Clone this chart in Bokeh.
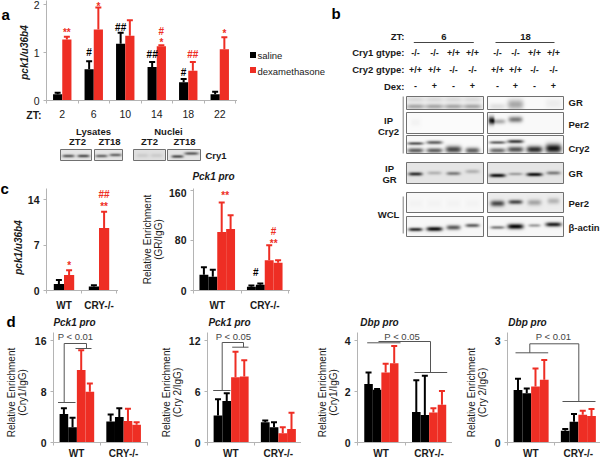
import numpy as np
from math import pi
from bokeh.plotting import figure
from bokeh.models import Range1d, FixedTicker
from bokeh.core.properties import value
from bokeh.embed import file_html
from bokeh.resources import INLINE

RED = "#ee2e24"
BLK = "#000000"
AX = "#b4b4b4"
FONT = value("Liberation Sans")
INK = "#1a1a1a"

# ---- panel a
zt_labels = ["2", "6", "10", "14", "18", "22"]
a_saline = [0.13, 0.65, 1.18, 0.70, 0.38, 0.13]
a_saline_err = [0.03, 0.17, 0.23, 0.10, 0.07, 0.05]
a_dex = [1.27, 1.48, 1.35, 1.13, 0.62, 1.07]
a_dex_err = [0.06, 0.46, 0.32, 0.02, 0.18, 0.25]
# ---- panel c
c1_values = [1.0, 2.4, 0.6, 9.6]
c1_err = [0.6, 0.7, 0.2, 2.5]
c2_values = [25, 22, 93, 98, 6, 9, 48, 44]
c2_err = [12, 11, 47, 22, 2, 2, 24, 4]
# ---- panel d
d1_values = [4.5, 2.4, 11.4, 8.0, 3.3, 4.0, 3.4, 2.8]
d1_err = [0.9, 1.5, 3.1, 1.3, 1.1, 1.4, 1.9, 0.4]
d2_values = [3.2, 4.9, 7.7, 7.8, 2.4, 1.8, 1.1, 1.6]
d2_err = [1.9, 0.9, 3.0, 1.9, 0.2, 0.6, 0.7, 1.9]
d3_values = [2.3, 2.07, 2.75, 3.12, 1.2, 1.08, 1.18, 1.48]
d3_err = [0.45, 0.03, 0.35, 0.68, 1.25, 1.55, 0.17, 0.55]
d4_values = [1.55, 1.45, 1.65, 1.85, 0.35, 0.61, 0.82, 0.78]
d4_err = [0.33, 0.14, 0.53, 0.58, 0.05, 0.23, 0.12, 0.21]
group_labels = ["WT", "CRY-/-"]
colors4 = [BLK, BLK, RED, RED, BLK, BLK, RED, RED]

WIN_W, WIN_H = 601, 459
ML = 34


def place(fig, left, top):
    fig.styles = {"position": "absolute", "left": f"{left}px", "top": f"{top}px"}


def chart(ax_x, right, y0_pix, frame_top, tick_top_pix, tick_top_val, yticks, slot, centers, labels,
          xs, vals, errs, cols, bw, label_size="10px", label_style="bold", stand=5,
          tick_size="10.5px", tick_style="bold", mb=30):
    W = right - ax_x
    H = y0_pix - frame_top
    per = (y0_pix - tick_top_pix) / tick_top_val
    p = figure(width=int(W + ML + 2), height=int(H + mb), output_backend="svg", toolbar_location=None,
               x_range=Range1d(0, (W + 2) / slot), y_range=Range1d(0, H / per),
               min_border_left=ML, min_border_right=0, min_border_top=0, min_border_bottom=mb,
               outline_line_color=None, background_fill_color=None, border_fill_color=None)
    p.grid.visible = False
    xa, ya = p.xaxis[0], p.yaxis[0]
    ya.ticker = FixedTicker(ticks=yticks)
    xa.ticker = FixedTicker(ticks=centers, minor_ticks=[float(i) for i in range(len(centers) + 1)])
    xa.major_label_overrides = {c: l for c, l in zip(centers, labels)}
    for a in (xa, ya):
        a.axis_line_color = AX
        a.major_tick_line_color = AX
        a.major_tick_in = 0
        a.minor_tick_in = 0
    ya.major_tick_out = 3
    ya.minor_tick_line_color = None
    xa.major_tick_out = 0
    xa.minor_tick_out = 3
    xa.minor_tick_line_color = AX
    xa.major_label_text_font = "Liberation Sans"
    xa.major_label_text_font_size = label_size
    xa.major_label_text_font_style = label_style
    xa.major_label_text_color = INK
    xa.major_label_standoff = stand
    ya.major_label_text_font = "Liberation Sans"
    ya.major_label_text_font_size = tick_size
    ya.major_label_text_font_style = tick_style
    ya.major_label_text_color = INK
    ya.major_label_standoff = 4

    tops = [v + e for v, e in zip(vals, errs)]
    p.segment(x0=xs, y0=vals, x1=xs, y1=tops, line_color=cols, line_width=2)
    p.scatter(x=xs, y=tops, marker="dash", size=6, line_color=cols, line_width=2)
    p.vbar(x=xs, top=vals, bottom=0, width=bw, fill_color=cols, line_color=None)
    place(p, ax_x - ML, frame_top)
    return p


def stars(p, items, size="10px"):
    for x, y, t, c in items:
        p.text(x=[x], y=[y], text=[t], text_color=c, text_font=FONT, text_font_size=size,
               text_font_style="bold", text_align="center", text_baseline="middle")


# ---- panel a chart
slot_a = 31.5
centers_a = [i + 0.5 for i in range(6)]
bw_a = 9.2 / slot_a
xs_a = [c - bw_a / 2 for c in centers_a] + [c + bw_a / 2 for c in centers_a]
pa = chart(46, 235, 100, 0, 4, 2, [0, 1, 2], slot_a, centers_a, zt_labels, xs_a,
           a_saline + a_dex, a_saline_err + a_dex_err, [BLK] * 6 + [RED] * 6, bw_a,
           label_size="10.5px", label_style="normal", stand=6, tick_style="normal")
stars(pa, [(xs_a[6], 1.41, "**", RED), (xs_a[1], 0.99, "#", BLK), (xs_a[7], 1.96, "*", RED),
           (xs_a[2], 1.52, "##", BLK), (xs_a[3], 0.96, "##", BLK), (xs_a[9], 1.44, "#", RED),
           (xs_a[9], 1.21, "*", RED), (xs_a[4], 0.58, "#", BLK), (xs_a[10], 0.96, "##", RED),
           (xs_a[11], 1.39, "*", RED)])

# ---- panel c charts
bw_c = 10.2 / 35
xs_c1 = [0.5 - bw_c / 2, 0.5 + bw_c / 2, 1.5 - bw_c / 2, 1.5 + bw_c / 2]
pc1 = chart(46, 116, 290, 188, 199, 14, [0, 7, 14], 35, [0.5, 1.5], group_labels, xs_c1,
            c1_values, c1_err, [BLK, RED, BLK, RED], bw_c, stand=6)
stars(pc1, [(xs_c1[1], 3.8, "*", RED), (xs_c1[3], 13.0, "**", RED), (xs_c1[3], 14.7, "##", RED)])


def four(slot, bw_px):
    b = bw_px / slot
    return [g + (i - 1.5) * b for g in (0.5, 1.5) for i in range(4)], b


xs_c2, bw_c2 = four(47.5, 8.9)
pc2 = chart(193, 288, 290, 188, 189.5, 160, [0, 80, 160], 47.5, [0.5, 1.5], group_labels, xs_c2,
            c2_values, c2_err, colors4, bw_c2, stand=6)
stars(pc2, [(0.5 + bw_c2 * 0.9, 151, "**", RED), (1.5 - bw_c2, 29, "#", BLK),
            (1.5 + bw_c2, 94, "#", RED), (1.5 + bw_c2, 75, "**", RED)])

# ---- panel d charts (their group names go on the sheet below, the window ends just under them)
blank = ["", ""]
xs_d1, bw_d1 = four(47, 8.7)
pd1 = chart(52.5, 146, 442, 332, 340.3, 16, [0, 8, 16], 47, [0.5, 1.5], blank, xs_d1,
            d1_values, d1_err, colors4, bw_d1, stand=0, mb=17)
xs_d2, bw_d2 = four(47.5, 8.8)
pd2 = chart(206.5, 299, 442, 332, 340.3, 12, [0, 6, 12], 47.5, [0.5, 1.5], blank, xs_d2,
            d2_values, d2_err, colors4, bw_d2, stand=0, mb=17)
xs_d3, bw_d3 = four(48, 8.6)
pd3 = chart(356.5, 450, 442, 332, 340.3, 4, [0, 2, 4], 48, [0.5, 1.5], blank, xs_d3,
            d3_values, d3_err, colors4, bw_d3, stand=0, mb=17)
xs_d4, bw_d4 = four(47.5, 8.8)
pd4 = chart(506.5, 598, 442, 332, 340.3, 3, [0, 3], 47.5, [0.5, 1.5], blank, xs_d4,
            d4_values, d4_err, colors4, bw_d4, stand=0, mb=17)

# ---- base sheet: labels, brackets, blots
base = figure(width=WIN_W, height=WIN_H, output_backend="svg", toolbar_location=None,
              x_range=Range1d(0, WIN_W), y_range=Range1d(WIN_H, 0), x_axis_type=None, y_axis_type=None,
              min_border=0, min_border_left=0, min_border_right=0, min_border_top=0, min_border_bottom=0,
              outline_line_color=None, background_fill_color="white", border_fill_color="white")
base.grid.visible = False
place(base, 0, 0)


def txt(x, y, t, size="10px", style="normal", align="center", color=INK, angle=0.0):
    base.text(x=[x], y=[y], text=[t], text_font=FONT, text_font_size=size, text_font_style=style,
              text_align=align, text_baseline="middle", text_color=color, angle=angle)


for x, y, t in [(1, 14, "a"), (331, 13, "b"), (0, 188, "c"), (6, 321, "d")]:
    txt(x, y, t, size="15px", style="bold", align="left", color="black")

for ax_x, slot in [(52.5, 47), (206.5, 47.5), (356.5, 48), (506.5, 47.5)]:
    txt(ax_x + slot / 2, 452.5, group_labels[0], style="bold")
    txt(ax_x + 1.5 * slot, 452.5, group_labels[1], style="bold")

# axis side labels
txt(24, 52, "pck1/u36b4", style="bold italic", angle=pi / 2)
txt(18, 247, "pck1/u36b4", style="bold italic", angle=pi / 2)
txt(41, 114.5, "ZT:", size="10.5px", style="bold", align="right")
for yl1, yl2, x1, cy in [("Relative Enrichment", "(GR/IgG)", 147, 239),
                         ("Relative Enrichment", "(Cry1/IgG)", 11, 392),
                         ("Relative Enrichment", "(Cry 2/IgG)", 165.7, 392),
                         ("Relative Enrichment", "(Cry1/IgG)", 321.7, 392),
                         ("Relative Enrichment", "(Cry 2/IgG)", 470.7, 392)]:
    txt(x1, cy, yl1, angle=pi / 2)
    txt(x1 + 11, cy, yl2, angle=pi / 2)
for x, y, t in [(213, 176, "Pck1 pro"), (74, 322, "Pck1 pro"), (229, 322, "Pck1 pro"),
                (379, 322, "Dbp pro"), (527, 322, "Dbp pro")]:
    txt(x, y, t, style="bold italic")

# legend
base.quad(left=[249.5, 249.5], right=[255.5, 255.5], top=[51.5, 66.5], bottom=[57.5, 72.5],
          fill_color=[BLK, RED], line_color=None)
txt(257, 55, "saline", size="9.5px", align="left")
txt(257, 70.5, "dexamethasone", size="9.5px", align="left")

# P brackets
BR = "#555555"
brackets = [
    ([57.5, 75], 402, [63.7, 63.7, 86, 86], [402, 343, 343, 348], [75, 91], 348),
    ([212.7, 230], 390, [221.7, 221.7, 243, 243], [390, 342, 342, 346.7], [231.7, 248], 346.7),
    ([366.7, 400], 342.3, [378, 430, 430], [341, 341, 372], [414, 446.7], 372),
    ([515, 547.7], 352.3, [529.3, 529.3, 578.3, 578.3], [352.3, 343.3, 343.3, 401], [562, 595], 401),
]
for xa_, ya_, xv, yv, xb, yb in brackets:
    base.line(x=xa_, y=[ya_, ya_], line_color=BR, line_width=1)
    base.line(x=xv, y=yv, line_color=BR, line_width=1)
    base.line(x=xb, y=[yb, yb], line_color=BR, line_width=1)
for x, t in [(75, "P < 0.01"), (233, "P < 0.05"), (401.7, "P < 0.05"), (553, "P < 0.01")]:
    txt(x, 336, t, size="9.5px", color="#444444")


# blots
def blot(x0, x1, y0, y1, bg, bands):
    w, h = int(round(x1 - x0)), int(round(y1 - y0))
    yy, xx = np.mgrid[0:h, 0:w]
    xx = xx + x0 + 0.5
    yy = yy + y0 + 0.5
    ink = np.full((h, w), 1.0 - bg, dtype=float)
    for cx, cy, sx, sy, d in bands:
        ink = ink + d * np.exp(-((xx - cx) / sx) ** 4 - ((yy - cy) / sy) ** 2)
    g = (255 * (1 - np.clip(ink, 0, 0.97))).astype(np.uint32)
    rgba = (255 << 24) | (g << 16) | (g << 8) | g
    base.image_rgba(image=[rgba.astype(np.uint32)], x=x0, y=y0, dw=x1 - x0, dh=y1 - y0)
    base.quad(left=[x0], right=[x1], top=[y0], bottom=[y1], fill_color=None, line_color="#707070", line_width=1)


L = [415, 434, 453, 472]
R = [497, 515, 534, 553]
blot(406, 483, 96, 109, 0.96, [(x, 106, 9, 2.5, 0.30) for x in L] + [(x, 99, 9, 3, 0.10) for x in L])
blot(487, 563, 96, 109, 0.98, [(R[0], 106, 8, 3, 0.10), (R[1], 104, 8, 5, 0.32), (R[3], 103, 8, 5, 0.05)])
blot(406, 483, 112, 133, 0.985, [(L[0], 122, 5, 4, 0.03)])
blot(487, 563, 112, 133, 0.98, [(R[0] - 6, 120, 3, 4, 0.8), (R[0] + 1, 121, 7, 2.5, 0.3), (R[1], 119, 7, 3, 0.5)])
blot(406, 483, 135, 153, 0.98, [(L[0], 143, 8, 1.5, 0.65), (L[0], 150, 8, 2.5, 0.6), (L[1], 142, 8, 1.8, 0.6),
                                (L[1], 150, 8, 2.5, 0.6), (L[2], 149, 8, 3.5, 0.7), (L[3], 150, 7, 3, 0.6)])
blot(487, 563, 135, 153, 0.98, [(R[0], 142, 8, 1.5, 0.6), (R[0], 150, 8, 2.5, 0.55), (R[1], 141, 8, 1.8, 0.75),
                                (R[1], 149, 8, 3, 0.65), (R[2], 149, 8, 3.5, 0.8), (R[3], 148, 8, 4.5, 0.9)])
blot(406, 483, 162, 183, 0.90, [(L[0], 173.5, 7, 1.8, 0.72), (L[1], 172.5, 7, 1.8, 0.2),
                                (L[2], 173, 7, 1.8, 0.42), (L[3], 171, 7, 2, 0.2)])
blot(487, 563, 162, 183, 0.90, [(R[0], 175, 8, 1.8, 0.85), (R[1], 173.5, 7, 1.5, 0.28),
                                (R[2], 174, 8, 1.8, 0.85), (R[3], 172.5, 7, 1.8, 0.42)])
blot(406, 483, 192, 212, 0.975, [(x, 203, 7, 4, 0.02) for x in L])
blot(487, 563, 192, 212, 0.93, [(R[0], 203, 7, 3, 0.65), (R[1], 201.5, 7, 2.2, 0.65),
                                (R[2], 202, 7, 3, 0.28), (R[3], 200.5, 6, 3, 0.22)])
blot(406, 483, 216, 236, 0.97, [(L[0], 229, 7, 1.8, 0.8), (L[1], 228.5, 8, 2.2, 0.92),
                                (L[2], 227, 7, 2.4, 0.62), (L[3], 225, 7, 1.8, 0.6)])
blot(487, 563, 216, 236, 0.97, [(R[0], 227, 7, 1.6, 0.48), (R[1], 226, 8, 2.6, 0.95),
                                (R[2], 225, 6, 1.6, 0.35), (R[3], 224, 8, 2.2, 0.85)])
base.segment(x0=[402.7, 402.7], y0=[96, 196], x1=[402.7, 402.7], y1=[153, 233], line_color="#808080", line_width=1)
for y, t in [(102, "GR"), (124, "Per2"), (148, "Cry2"), (172.5, "GR"), (203, "Per2"), (227, "β-actin")]:
    txt(568, y, t, size="9.5px", style="bold", align="left")
for x, y, t in [(388, 120, "IP"), (388, 131, "Cry2"), (389, 168, "IP"), (389, 179, "GR"), (388, 214, "WCL")]:
    txt(x, y, t, size="9.5px", style="bold")

# header of panel b
txt(404, 36, "ZT:", size="9.5px", style="bold", align="right")
txt(443.3, 36, "6", size="9.5px", style="bold")
txt(525, 36, "18", size="9.5px", style="bold")
base.segment(x0=[413.3, 495], y0=[42, 42], x1=[473.3, 554], y1=[42, 42], line_color="#444444", line_width=1)
cols_b = L + R
rows_b = [(52, "Cry1 gtype:", ["-/-", "-/-", "+/+", "+/+"] * 2),
          (69, "Cry2 gtype:", ["+/+", "+/+", "-/-", "-/-"] * 2),
          (85.5, "Dex:", ["-", "+", "-", "+"] * 2)]
for y, head, vals in rows_b:
    txt(404, y, head, size="9.5px", style="bold", align="right")
    base.text(x=cols_b, y=[y] * 8, text=vals, text_font=FONT, text_font_size="9px", text_font_style="bold",
              text_align="center", text_baseline="middle", text_color=INK)

# small Cry1 blots
txt(93, 130.5, "Lysates", size="9.5px", style="bold")
txt(168, 130.5, "Nuclei", size="9.5px", style="bold")
for x, t in [(77, "ZT2"), (109, "ZT18"), (149, "ZT2"), (184, "ZT18")]:
    txt(x, 141, t, size="9.5px", style="bold")
blot(60, 91, 149, 160, 0.90, [(68, 155.5, 6, 1.5, 0.55), (83, 155.5, 6, 1.5, 0.6)])
blot(94, 122, 149, 160, 0.90, [(101, 155.5, 6, 1.5, 0.5), (115, 154.5, 6, 1.5, 0.5)])
blot(133, 165, 149, 160, 0.88, [(142, 155, 6, 2, 0.08), (156, 155, 6, 2, 0.08)])
blot(167, 200, 149, 160, 0.90, [(177, 156, 6, 1.5, 0.6), (191, 153, 7, 1.5, 0.55)])
txt(205, 155, "Cry1", size="9.5px", style="bold", align="left")

roots = [base, pa, pc1, pc2, pd1, pd2, pd3, pd4]
open("out.html", "w").write(file_html(roots, INLINE))
